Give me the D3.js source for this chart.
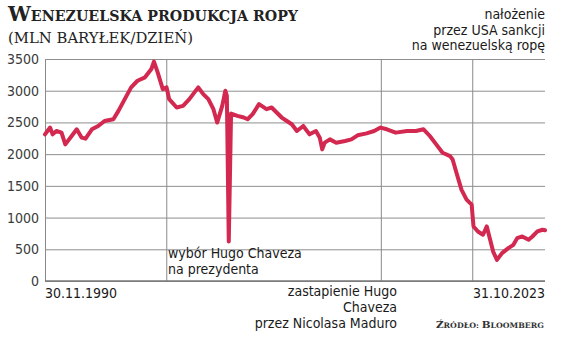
<!DOCTYPE html>
<html>
<head>
<meta charset="utf-8">
<script src="https://cdn.jsdelivr.net/npm/d3@7"></script>
<style>
  body { margin: 0; background: #fff; }
  .cond { font-family: "Liberation Sans Narrow", "DejaVu Sans Condensed", "Roboto Condensed", sans-serif; font-stretch: condensed; }
  .serif { font-family: "DejaVu Serif", serif; }
</style>
</head>
<body>
<div id="chart"></div>
<script>
// monthly-ish readings of the production line (thousand barrels / day)
const dates = [
  "1990-11-30","1991-04-01","1991-06-01","1991-09-01","1992-01-01","1992-04-01","1992-09-01",
  "1993-01-01","1993-05-01","1993-08-01","1994-01-01","1994-06-01","1994-11-01","1995-06-01",
  "1995-10-01","1996-03-01","1996-08-01","1997-01-01","1997-07-01","1997-12-01","1998-02-01",
  "1998-05-01","1998-09-01","1998-12-01","1999-02-01","1999-08-01","2000-01-01","2000-06-01",
  "2001-01-01","2001-05-01","2001-09-01","2002-01-01","2002-04-01","2002-08-01","2002-10-15",
  "2002-11-20","2003-01-05","2003-03-01","2003-08-01","2004-01-01","2004-04-01","2004-08-01",
  "2005-01-01","2005-07-01","2005-11-01","2006-03-01","2006-07-01","2006-11-01","2007-03-01",
  "2007-07-01","2007-12-01","2008-05-01","2008-10-01","2009-01-01","2009-03-01","2009-05-01",
  "2009-09-01","2010-02-01","2010-09-01","2011-02-01","2011-07-01","2012-02-01","2012-08-01",
  "2013-01-01","2013-06-01","2014-01-01","2014-10-01","2015-05-01","2015-11-01","2016-04-01",
  "2016-09-01","2017-02-01","2017-08-01","2017-10-01","2018-01-01","2018-05-01","2018-09-01",
  "2019-01-01","2019-02-15","2019-06-01","2019-10-01","2020-01-01","2020-03-01","2020-06-01",
  "2020-09-01","2021-01-01","2021-06-01","2021-10-01","2022-01-01","2022-05-01","2022-10-01",
  "2023-01-01","2023-05-01","2023-09-01","2023-10-31"
];
const production = [
  2312,2419,2312,2365,2339,2154,2286,
  2392,2260,2244,2392,2444,2523,2550,
  2682,2867,3052,3157,3211,3342,3458,
  3290,3025,3052,2867,2735,2761,2867,
  3052,2946,2867,2709,2498,2761,2999,
  2920,623,2640,2603,2577,2550,2630,
  2788,2709,2735,2656,2577,2523,2471,
  2365,2444,2312,2365,2260,2075,2181,
  2233,2181,2207,2233,2297,2328,2365,
  2419,2392,2339,2365,2365,2392,2286,
  2154,2022,1969,1916,1706,1441,1283,
  1204,860,781,729,860,702,464,
  333,439,518,570,676,702,649,
  702,781,808,800
];
const yTicks = [0, 500, 1000, 1500, 2000, 2500, 3000, 3500];
const eventDates = ["1998-12-06", "2013-01-20", "2019-01-28"];

const width = 564, height = 347;
const margin = { top: 59, right: 19, bottom: 66, left: 45 };
const parse = d3.timeParse("%Y-%m-%d");

const svg = d3.select("#chart").append("svg")
  .attr("width", width).attr("height", height);

const x = d3.scaleTime()
  .domain([parse("1990-11-30"), parse("2023-10-31")])
  .range([margin.left, width - margin.right]);
const y = d3.scaleLinear()
  .domain([0, 3500])
  .range([height - margin.bottom, margin.top]);

// horizontal grid + tick labels
const yAxis = svg.append("g")
  .attr("transform", `translate(${margin.left},0)`)
  .call(d3.axisLeft(y).tickValues(yTicks).tickSize(-(width - margin.left - margin.right)).tickPadding(6).tickFormat(d3.format("d")));
yAxis.select(".domain").attr("stroke", "#8a8a8a");
yAxis.selectAll(".tick line").attr("stroke", "#8f8f8f").attr("stroke-width", 1);
yAxis.selectAll(".tick text")
  .attr("class", "cond")
  .style("font-size", "14px")
  .attr("fill", "#3a3a3a");

// event lines
svg.selectAll(".event").data(eventDates).enter().append("line")
  .attr("x1", d => x(parse(d))).attr("x2", d => x(parse(d)))
  .attr("y1", y(3500)).attr("y2", y(0))
  .attr("stroke", "#8a8a8a").attr("stroke-width", 1);

// baseline
svg.append("line")
  .attr("x1", margin.left).attr("x2", width - margin.right)
  .attr("y1", y(0)).attr("y2", y(0))
  .attr("stroke", "#777").attr("stroke-width", 1.5);

// data line
const line = d3.line()
  .x((d, i) => x(parse(dates[i])))
  .y(d => y(d));
svg.append("path")
  .datum(production)
  .attr("fill", "none")
  .attr("stroke", "#d3284f")
  .attr("stroke-width", 4)
  .attr("stroke-linejoin", "round")
  .attr("stroke-linecap", "round")
  .attr("d", line);

// title
const title = svg.append("text").attr("class", "serif")
  .attr("x", 8).attr("y", 21)
  .attr("font-weight", "bold").attr("fill", "#222")
  .attr("textLength", 290).attr("lengthAdjust", "spacingAndGlyphs");
title.append("tspan").style("font-size", "20px").text("W");
title.append("tspan").style("font-size", "14px").text("ENEZUELSKA PRODUKCJA ROPY");
svg.append("text").attr("class", "serif")
  .attr("x", 8).attr("y", 43)
  .style("font-size", "15px").attr("fill", "#222")
  .attr("textLength", 185).attr("lengthAdjust", "spacingAndGlyphs")
  .text("(MLN BARYŁEK/DZIEŃ)");

// annotations
function multiline(lines, xPos, yPos, anchor, dy) {
  const t = svg.append("text").attr("class", "cond")
    .attr("text-anchor", anchor)
    .style("font-size", "14px").attr("fill", "#1a1a1a");
  lines.forEach((l, i) => {
    t.append("tspan").attr("x", xPos).attr("y", yPos + i * dy).text(l);
  });
}
multiline(["nałożenie", "przez USA sankcji", "na wenezuelską ropę"], 545, 19, "end", 15.5);
multiline(["wybór Hugo Chaveza", "na prezydenta"], 168, 258, "start", 16);
multiline(["zastapienie Hugo", "Chaveza", "przez Nicolasa Maduro"], 397, 296, "end", 16);

// date labels
svg.append("text").attr("class", "cond")
  .attr("x", x.range()[0]).attr("y", 298)
  .style("font-size", "14px").attr("fill", "#1a1a1a")
  .text("30.11.1990");
svg.append("text").attr("class", "cond")
  .attr("x", x.range()[1]).attr("y", 298).attr("text-anchor", "end")
  .style("font-size", "14px").attr("fill", "#1a1a1a")
  .text("31.10.2023");

// source
const src = svg.append("text").attr("class", "serif")
  .attr("x", 436).attr("y", 328).attr("fill", "#333")
  .attr("font-weight", "bold")
  .attr("textLength", 108).attr("lengthAdjust", "spacingAndGlyphs");
src.append("tspan").style("font-size", "10px").text("Ź");
src.append("tspan").style("font-size", "7.5px").text("RÓDŁO: ");
src.append("tspan").style("font-size", "10px").text("B");
src.append("tspan").style("font-size", "7.5px").text("LOOMBERG");
</script>
</body>
</html>
